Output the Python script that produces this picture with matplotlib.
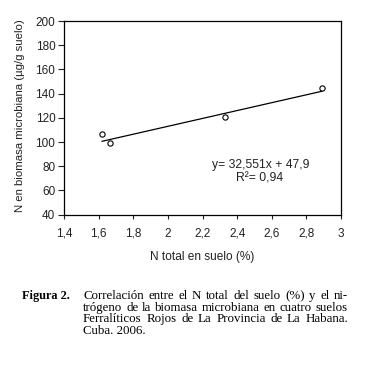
import matplotlib
matplotlib.use('Agg')
import matplotlib.pyplot as plt
from matplotlib.ticker import FuncFormatter, MultipleLocator
import numpy as np

# data
n_suelo = [1.62, 1.665, 2.33, 2.89]          # N total en suelo (%)
n_biomasa = [107, 99, 121, 145]               # N en biomasa microbiana (ug/g suelo)
pendiente = 32.551
intercepto = 47.9
r2 = 0.94

lineas = ['Correlación entre el N total del suelo (%) y el ni-',
          'trógeno de la biomasa microbiana en cuatro suelos',
          'Ferralíticos Rojos de La Provincia de La Habana.',
          'Cuba. 2006.']

plt.rcParams['font.family'] = ['Liberation Sans', 'DejaVu Sans']
gris = '#222222'

fig = plt.figure(figsize=(3.67, 3.68), dpi=100)
W, H = 367, 368
ax = fig.add_axes([64 / W, 1 - 214.7 / H, 277 / W, 193.7 / H])

# trend line
xl = np.array([min(n_suelo), max(n_suelo)])
ax.plot(xl, pendiente * xl + intercepto, color='black', lw=0.9)
ax.plot(n_suelo, n_biomasa, 'o', mfc='white', mec='black', ms=3.8, mew=0.8)

ax.set_xlim(1.4, 3)
ax.set_ylim(40, 200)
ax.xaxis.set_major_locator(MultipleLocator(0.2))
ax.yaxis.set_major_locator(MultipleLocator(20))

def coma(v, pos):
    s = ('%.1f' % v).rstrip('0').rstrip('.')
    return s.replace('.', ',')

ax.xaxis.set_major_formatter(FuncFormatter(coma))
ax.tick_params(direction='out', width=0.8, labelsize=8.5, colors=gris)
ax.tick_params(axis='x', length=3, pad=6.3)
ax.tick_params(axis='y', length=4, pad=2.2)
for s in ax.spines.values():
    s.set_linewidth(0.9)

ax.set_xlabel('N total en suelo (%)', fontsize=8.6, color=gris, va='center')
ax.xaxis.set_label_coords(0.498, 1 - (256.7 - 21) / 193.7)
ax.set_ylabel('N en biomasa microbiana (µg/g suelo)', fontsize=8.2, color=gris, va='center')
ax.yaxis.set_label_coords((20.5 - 64) / 277, 0.51)

eq = 'y= %sx + %s' % (str(pendiente).replace('.', ','), str(intercepto).replace('.', ','))
ax.text(2.538, 81, eq, ha='center', va='center', fontsize=8.7, color=gris)
ax.text(2.53, 70.1, 'R²= ' + str(r2).replace('.', ','), ha='center', va='center',
        fontsize=8.7, color=gris)

# caption, justified like the source
serif = ['Liberation Serif', 'DejaVu Serif']
fs = 9.3
fig.text(22 / W, 1 - 296 / H, 'Figura 2.', family=serif, weight='bold', fontsize=8.8,
         va='center')
renderer = fig.canvas.get_renderer()
x0, x1 = 83, 348
for i, t in enumerate(lineas):
    yy = 1 - (296 + 11.6 * i) / H
    palabras = t.split(' ')
    if i == len(lineas) - 1:
        fig.text(x0 / W, yy, t, family=serif, fontsize=fs, va='center')
        continue
    objs = [fig.text(0, yy, p, family=serif, fontsize=fs, va='center') for p in palabras]
    anchos = [o.get_window_extent(renderer).width for o in objs]
    hueco = (x1 - x0 - sum(anchos)) / (len(palabras) - 1)
    x = x0
    for o, a in zip(objs, anchos):
        o.set_x(x / W)
        x += a + hueco

fig.savefig('out.png', dpi=100, facecolor='white')
